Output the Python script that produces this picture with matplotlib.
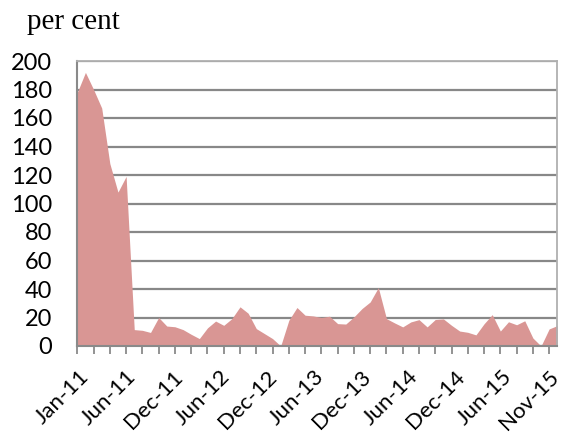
import matplotlib
matplotlib.use("Agg")
import matplotlib.pyplot as plt
import matplotlib.transforms as mtransforms
import numpy as np

# Data (per cent), 60 observations on a category axis
values = [178, 192, 180, 167, 128, 108, 119, 11.5, 11, 9.5,
          20, 14, 13.5, 11.5, 8.2, 5.2, 12.7, 17.5, 14.5, 19.2,
          27.5, 23, 12.2, 8.7, 5.2, 0, 18, 27, 21.6, 21.1,
          20, 20.9, 15.7, 15.4, 20.4, 26.3, 30.9, 41, 19.2, 16.2,
          13.4, 16.9, 18.5, 13.4, 18.6, 19, 14.5, 10.5, 9.6, 7.8,
          15.6, 22, 10.5, 17, 14.9, 17.7, 5.6, 0, 12, 14.3]
label_txt = ["Jan-11", "Jun-11", "Dec-11", "Jun-12", "Dec-12", "Jun-13",
             "Dec-13", "Jun-14", "Dec-14", "Jun-15", "Nov-15"]
y_ticks = [0, 20, 40, 60, 80, 100, 120, 140, 160, 180, 200]

W, H = 568, 434
fig = plt.figure(figsize=(W / 100, H / 100), dpi=100)
ax = fig.add_axes([77.3 / W, 1 - 346 / H, (557.3 - 77.3) / W, (346 - 61) / H])

x = np.arange(len(values))
ax.fill_between(x, values, 0, color="#d99694", linewidth=0, zorder=2)

ax.set_xlim(0, len(values) - 1)
ax.set_ylim(0, 200)

ax.set_yticks(y_ticks)
ax.set_yticklabels([str(v) for v in y_ticks], fontfamily="Lato", fontsize=17)
ax.tick_params(axis="y", length=0, pad=18)
ax.grid(axis="y", color="#888888", linewidth=1.6, zorder=1)
ax.set_axisbelow(True)

# tick marks every 2 categories
ax.set_xticks(np.arange(0, len(values), 2))
ax.set_xticklabels([])
ax.tick_params(axis="x", which="major", length=6, width=1.3, color="#8a8a8a", direction="out")

# rotated category labels, evenly spread along the axis
label_pos = np.linspace(0, 57.8, len(label_txt))
offset = mtransforms.ScaledTranslation(12.5 / 100, -32 / 100, fig.dpi_scale_trans)
trans = ax.get_xaxis_transform() + offset
for p, t in zip(label_pos, label_txt):
    ax.text(p, 0, t, transform=trans, rotation=45, rotation_mode="anchor",
            ha="right", va="baseline", fontfamily="Lato", fontsize=16, clip_on=False)

for s in ["top", "right"]:
    ax.spines[s].set_color("#b0b0b0")
    ax.spines[s].set_linewidth(1.3)
for s in ["left", "bottom"]:
    ax.spines[s].set_color("#8a8a8a")
    ax.spines[s].set_linewidth(1.5)

fig.text(27 / W, 1 - 29 / H, "per cent", fontfamily="Liberation Serif", fontsize=21,
         ha="left", va="baseline")

fig.savefig("out.png", dpi=100)
